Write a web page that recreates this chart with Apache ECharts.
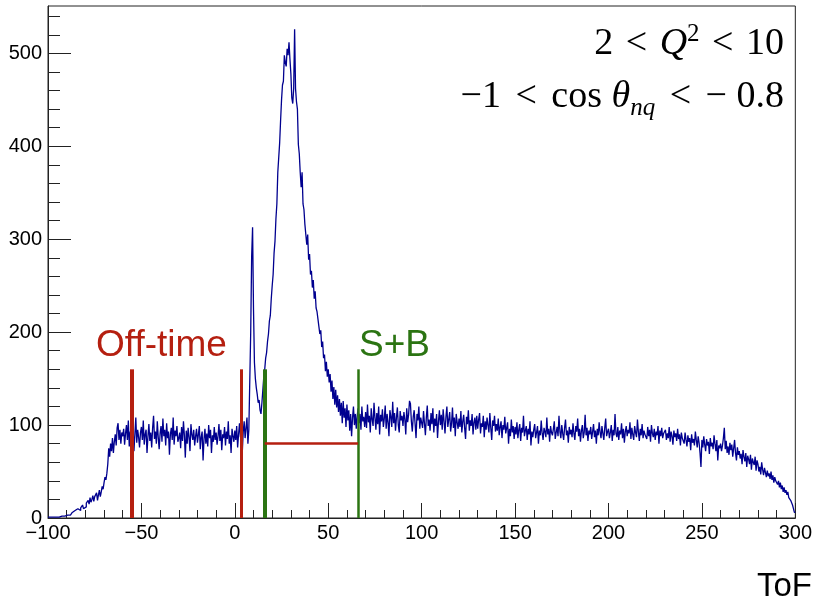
<!DOCTYPE html>
<html>
<head>
<meta charset="utf-8">
<script src="https://cdn.jsdelivr.net/npm/echarts@6/dist/echarts.min.js"></script>
<style>html,body{margin:0;padding:0;background:#fff;}#c{width:815px;height:610px;}</style>
</head>
<body>
<div id="c"></div>
<script>
// ---- data ----
const binStart = -100;
const binWidth = 0.5;
const counts = [
  1,0,1,1,0,1,1,0,1,2, 1,1,0,1,2,1,1,2,1,2,
  3,2,4,3,5,4,6,5,8,6, 7,10,9,12,8,11,9,14,10,12,
  12,16,14,19,15,22,17,20,24,18, 23,21,27,19,25,30,23,28,34,31,
  38,44,41,48,58,75,66,80,72,86, 70,82,90,78,97,102,84,95,80,92,
  88,96,79,91,100,84,105,77,93,86, 82,99,72,90,108,81,95,87,76,92,
  98,84,105,79,90,95,70,88,101,83, 92,76,97,110,85,93,80,104,87,74,
  91,99,82,107,88,95,78,102,86,93, 68,90,97,84,108,79,94,88,99,82,
  86,92,75,98,83,104,89,65,94,80, 97,87,72,101,90,84,95,78,88,96,
  81,90,99,74,87,93,62,85,96,80, 91,77,100,86,95,70,89,82,98,84,
  92,79,88,101,83,95,73,90,86,98, 78,93,85,104,80,89,70,96,88,82,
  94,84,99,76,90,102,87,95,71,93, 104,86,97,108,80,95,96,200,281,313,
  224,167,150,140,133,124,127,116,112,124, 138,152,160,172,178,190,198,212,218,236,
  250,262,285,298,322,338,372,388,404,428, 450,466,470,498,490,486,505,498,512,494,
  478,452,446,462,526,462,448,440,402,392, 372,356,372,338,332,316,318,294,305,278,
  284,262,266,248,256,236,244,226,222,214, 206,198,202,184,190,172,176,158,168,152,
  160,146,155,136,148,128,141,122,138,119, 132,114,128,110,124,102,126,108,118,98,
  122,105,116,94,112,88,108,120,100,112, 96,110,118,102,112,95,120,104,109,98,
  114,97,122,103,110,92,118,106,99,124, 108,95,113,101,120,90,111,104,117,98,
  107,121,96,112,103,88,116,109,98,125, 102,113,94,108,119,100,92,115,105,110,
  99,114,106,90,118,103,111,126,123,104, 93,109,116,101,86,112,105,120,96,108,
  110,97,115,102,89,108,121,99,106,94, 113,101,118,92,107,99,112,86,104,116,
  100,111,95,117,104,91,109,120,98,106, 114,93,102,119,97,108,88,112,103,96,
  107,98,115,92,104,111,97,85,109,101, 116,94,105,99,112,90,103,108,95,110,
  96,106,113,91,102,98,110,87,104,95, 108,100,92,113,97,84,105,99,110,93,
  101,94,107,89,98,104,86,100,95,109, 91,97,103,80,96,88,106,92,99,85,
  98,90,103,86,95,101,83,97,92,110, 88,94,99,84,96,90,104,78,93,87,
  95,101,86,92,99,80,94,89,105,91, 84,97,93,87,108,90,96,82,99,92,
  89,96,104,85,92,98,88,110,93,86, 100,91,84,97,106,89,94,81,98,90,
  95,87,102,91,84,99,93,107,88,96, 82,94,100,86,92,111,89,97,83,94,
  90,98,85,93,101,87,94,80,96,89, 103,92,86,99,91,84,97,107,88,93,
  96,86,92,100,83,95,89,112,91,87, 98,84,94,90,102,86,96,81,93,99,
  88,95,91,103,85,97,90,84,99,92, 87,106,93,83,96,89,101,86,94,90,
  92,85,98,88,95,82,100,91,87,96, 84,93,89,99,80,94,88,97,86,91,
  89,95,84,91,86,98,82,93,88,79, 94,87,91,83,96,85,90,78,92,86,
  88,80,92,84,77,89,82,86,73,90, 81,85,78,93,84,76,88,81,70,55,
  84,76,88,79,72,85,78,82,69,86, 77,81,74,89,80,72,84,62,78,75,
  80,72,78,86,97,74,83,70,77,68, 81,73,79,66,75,84,70,62,76,68,
  72,64,69,58,73,66,61,70,55,67, 63,58,68,52,64,60,57,66,51,62,
  58,50,55,47,60,52,46,54,49,44, 51,45,48,42,50,41,46,38,44,40,
  42,36,40,33,38,31,35,28,33,27, 30,25,28,22,24,19,18,14,10,6
];
const xTicks = [-100,-50,0,50,100,150,200,250,300];
const xMinor = [-90,-80,-70,-60,-40,-30,-20,-10,10,20,30,40,60,70,80,90,110,120,130,140,160,170,180,190,210,220,230,240,260,270,280,290];
const yTicks = [0,100,200,300,400,500];
const yMinor = [20,40,60,80,120,140,160,180,220,240,260,280,320,340,360,380,420,440,460,480,520,540];
const offTimeCuts = [-55, 3.5];
const signalCuts = [16, 66];
const cutHeight = 160;
const bandLevel = 80;
const labels = { off: 'Off-time', sb: 'S+B', xTitle: 'ToF' };

// ---- build ----
const histData = counts.map((c, i) => [binStart + i * binWidth, c]);
histData.push([binStart + counts.length * binWidth, counts[counts.length - 1]]);

const RED = '#b51f10';
const GREEN = '#2b7412';
const BLUE = '#00008f';
const fmt = v => (v < 0 ? '\u2212' + Math.abs(v) : String(v));

const chart = echarts.init(document.getElementById('c'), null, {renderer: 'canvas'});
const SERIF = 'Liberation Serif';
const FS = 38;
chart.setOption({
  animation: false,
  backgroundColor: '#fff',
  grid: { left: 48, right: 14, top: 6, bottom: 92, show: true, borderColor: '#222', borderWidth: 1, containLabel: false },
  xAxis: [
    { type: 'value', min: -100, max: 300, interval: 50, position: 'bottom',
      axisLine: { show: true, onZero: false, lineStyle: { color: '#222', width: 1 } },
      axisTick: { show: true, inside: true, length: 15, lineStyle: { color: '#222', width: 1 }, customValues: xTicks },
      axisLabel: { show: true, customValues: xTicks, formatter: fmt, fontSize: 20, fontFamily: 'Liberation Sans', color: '#000', margin: 5 },
      splitLine: { show: false } },
    { type: 'value', min: -100, max: 300, position: 'bottom', offset: 0,
      axisLine: { show: false, onZero: false },
      axisTick: { show: true, inside: true, length: 8, lineStyle: { color: '#222', width: 1 }, customValues: xMinor },
      axisLabel: { show: false }, splitLine: { show: false } }
  ],
  yAxis: [
    { type: 'value', min: 0, max: 551, position: 'left',
      axisLine: { show: true, onZero: false, lineStyle: { color: '#222', width: 1 } },
      axisTick: { show: true, inside: true, length: 23, lineStyle: { color: '#222', width: 1 }, customValues: yTicks },
      axisLabel: { show: true, customValues: yTicks, fontSize: 20, fontFamily: 'Liberation Sans', color: '#000', margin: 6 },
      splitLine: { show: false } },
    { type: 'value', min: 0, max: 551, position: 'left', offset: 0,
      axisLine: { show: false, onZero: false },
      axisTick: { show: true, inside: true, length: 12, lineStyle: { color: '#222', width: 1 }, customValues: yMinor },
      axisLabel: { show: false }, splitLine: { show: false } }
  ],
  series: [
    { type: 'line', xAxisIndex: 0, yAxisIndex: 0, step: 'end', data: histData, showSymbol: false, symbol: 'none',
      lineStyle: { color: BLUE, width: 1.3 }, silent: true, z: 2 },
    { type: 'line', xAxisIndex: 0, yAxisIndex: 0, data: [], silent: true, z: 3,
      markLine: { silent: true, symbol: 'none', label: { show: false }, animation: false,
        data: [
          [{ coord: [offTimeCuts[0], 0], lineStyle: { color: RED, width: 4, type: 'solid' } }, { coord: [offTimeCuts[0], cutHeight] }],
          [{ coord: [offTimeCuts[1], 0], lineStyle: { color: RED, width: 3, type: 'solid' } }, { coord: [offTimeCuts[1], cutHeight] }],
          [{ coord: [signalCuts[0], 0], lineStyle: { color: GREEN, width: 4, type: 'solid' } }, { coord: [signalCuts[0], cutHeight] }],
          [{ coord: [signalCuts[1], 0], lineStyle: { color: GREEN, width: 2.5, type: 'solid' } }, { coord: [signalCuts[1], cutHeight] }],
          [{ coord: [signalCuts[0], bandLevel], lineStyle: { color: RED, width: 2.5, type: 'solid' } }, { coord: [signalCuts[1], bandLevel] }]
        ] } }
  ],
  graphic: [
    { type: 'text', x: 96, y: 346, silent: true,
      style: { text: labels.off, fill: RED, fontSize: 37, fontFamily: 'Liberation Sans', align: 'left', verticalAlign: 'middle' } },
    { type: 'text', x: 359, y: 346, silent: true,
      style: { text: labels.sb, fill: GREEN, fontSize: 37, fontFamily: 'Liberation Sans', align: 'left', verticalAlign: 'middle' } },
    { type: 'text', x: 812, y: 587, silent: true,
      style: { text: labels.xTitle, fill: '#000', fontSize: 33, fontFamily: 'Liberation Sans', align: 'right', verticalAlign: 'middle' } },
    { type: 'text', x: 784, y: 44, silent: true,
      style: { text: '{n|2 }{lt|<}{n| }{i|Q}{sup|2}{n| }{lt|<}{n| 10}', align: 'right', verticalAlign: 'middle', fill: '#000',
        rich: {
          n: { fontSize: FS, lineHeight: 44, fontFamily: SERIF, fill: '#000' },
          lt: { fontSize: FS, lineHeight: 44, fontFamily: SERIF, fill: '#000', padding: [0, 3, 0, 3] },
          i: { fontSize: FS, lineHeight: 44, fontFamily: SERIF, fontStyle: 'italic', fill: '#000' },
          sup: { fontSize: 25, lineHeight: 25, fontFamily: SERIF, verticalAlign: 'top', fill: '#000' }
        } } },
    { type: 'text', x: 784, y: 97, silent: true,
      style: { text: '{n|\u22121 }{lt|<}{n| cos }{i|\u03b8}{sub|nq}{n| }{lt|<}{n| \u2212 0.8}', align: 'right', verticalAlign: 'middle', fill: '#000',
        rich: {
          n: { fontSize: FS, lineHeight: 48, fontFamily: SERIF, fill: '#000' },
          lt: { fontSize: FS, lineHeight: 48, fontFamily: SERIF, fill: '#000', padding: [0, 5, 0, 5] },
          i: { fontSize: FS, lineHeight: 48, fontFamily: SERIF, fontStyle: 'italic', fill: '#000' },
          sub: { fontSize: 25, lineHeight: 25, fontFamily: SERIF, fontStyle: 'italic', verticalAlign: 'bottom', fill: '#000' }
        } } }
  ]
});
</script>
</body>
</html>
